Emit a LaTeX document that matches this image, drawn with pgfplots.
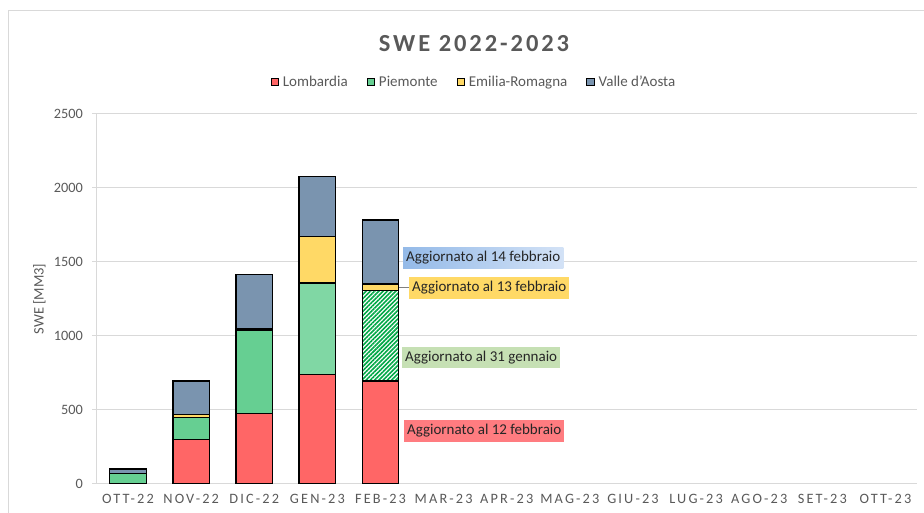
\documentclass[border=0pt]{standalone}
\usepackage{pgfplots}
\pgfplotsset{compat=1.18}
\usepackage{fontspec}
\setmainfont{Carlito}
\newfontfamily\spaced[LetterSpace=15]{Carlito}
\newfontfamily\titlefont[LetterSpace=12]{Carlito}
\usetikzlibrary{patterns.meta}
\definecolor{txtgray}{HTML}{595959}
\definecolor{gridgray}{HTML}{D9D9D9}
\definecolor{lomb}{HTML}{FF6666}
\definecolor{piem}{HTML}{66CF92}
\definecolor{piemlight}{HTML}{80D7A4}
\definecolor{hatch}{HTML}{00A846}
\definecolor{emil}{HTML}{FFD966}
\definecolor{vda}{HTML}{7A94AF}
\definecolor{lblblueL}{HTML}{94BAE8}
\definecolor{lblblueR}{HTML}{D3E2F6}
\definecolor{lblyellow}{HTML}{FFD966}
\definecolor{lblgreen}{HTML}{C6E0B4}
\definecolor{lblred}{HTML}{FF7C80}

\begin{document}
\begin{tikzpicture}
% page = 924 x 513 px, 1px = 1pt, axis origin at pixel (96.5, 484)
\path[use as bounding box] (-96.5pt,-29pt) rectangle (827.5pt,484pt);
\draw[gridgray, line width=1pt] (-87.5pt,-60pt) -- (-87.5pt,473pt) -- (900pt,473pt);

\begin{axis}[
  at={(0,0)}, anchor=south west,
  scale only axis,
  width=820.5pt, height=370pt,
  ybar stacked,
  bar width=36.6pt,
  xmin=-0.5, xmax=12.5,
  ymin=0, ymax=2500,
  xtick={0,...,12},
  xticklabels={OTT-22,NOV-22,DIC-22,GEN-23,FEB-23,MAR-23,APR-23,MAG-23,GIU-23,LUG-23,AGO-23,SET-23,OTT-23},
  xticklabel style={font=\fontsize{14.3}{16}\spaced, text=txtgray, yshift=-3pt},
  major x tick style={draw=none},
  ytick={0,500,...,2500},
  yticklabel style={font=\fontsize{14.3}{16}\selectfont, text=txtgray, xshift=-6pt},
  /pgf/number format/1000 sep={},
  /pgf/number format/assume math mode=true,
  tick align=outside,
  major tick length=4pt,
  major y tick style={gridgray, line width=1pt},
  ymajorgrids,
  grid style={gridgray, line width=1pt},
  axis x line*=bottom,
  axis y line*=left,
  axis line style={gridgray, line width=1pt},
  ylabel={SWE [MM3]},
  ylabel style={at={(axis description cs:-0.0695,0.5)}, anchor=center,
    font=\fontsize{14.5}{16}\selectfont, text=txtgray},
  legend columns=4,
  legend style={at={(0.460,1.0865)}, anchor=center, draw=none, fill=none,
    font=\fontsize{15}{17}\selectfont, text=txtgray,
    /tikz/every odd column/.append style={column sep=2pt},
    /tikz/every even column/.append style={column sep=17pt}},
  legend image code/.code={\draw[#1, draw=black, line width=0.7pt] (0pt,-3.8pt) rectangle (7.6pt,3.8pt);},
  every axis plot/.append style={draw=black, line width=1.3pt},
]
\addplot[fill=lomb] coordinates {(0,0) (1,302) (2,477) (3,739) (4,696)};
\addlegendentry{Lombardia}
\addplot[fill=piem] coordinates {(0,70) (1,148) (2,561) (3,0) (4,0)};
\addlegendentry{Piemonte}
\addplot[fill=piemlight, forget plot] coordinates {(0,0) (1,0) (2,0) (3,619) (4,0)};
\addplot[fill=white, forget plot,
  postaction={pattern={Lines[angle=45, distance=3pt, line width=1.6pt]}, pattern color=hatch}]
  coordinates {(0,0) (1,0) (2,0) (3,0) (4,613)};
\addplot[fill=emil] coordinates {(0,0) (1,21) (2,10) (3,313) (4,42)};
\addlegendentry{Emilia-Romagna}
\addplot[fill=vda] coordinates {(0,31) (1,225) (2,369) (3,408) (4,433)};
\addlegendentry{Valle d'Aosta}

\draw[gray, line width=1pt] (axis cs:4.29,1329) -- (axis cs:4.451,1329);
\node[anchor=west, left color=lblblueL, right color=lblblueR, inner xsep=3pt,
  minimum height=21pt, font=\fontsize{15}{17}\selectfont, text=black!85]
  at (axis cs:4.356,1530) {Aggiornato al 14 febbraio};
\node[anchor=west, fill=lblyellow, inner xsep=3pt,
  minimum height=22pt, font=\fontsize{15}{17}\selectfont, text=black!85]
  at (axis cs:4.451,1324) {Aggiornato al 13 febbraio};
\node[anchor=west, fill=lblgreen, inner xsep=3pt,
  minimum height=21pt, font=\fontsize{15}{17}\selectfont, text=black!85]
  at (axis cs:4.340,855) {Aggiornato al 31 gennaio};
\node[anchor=west, fill=lblred, inner xsep=3pt,
  minimum height=22pt, font=\fontsize{15}{17}\selectfont, text=black!85]
  at (axis cs:4.372,358) {Aggiornato al 12 febbraio};
\end{axis}

\node[font=\fontsize{24.5}{28}\titlefont\bfseries, text=txtgray] at (377.5pt,440pt) {SWE 2022-2023};
\end{tikzpicture}
\end{document}
